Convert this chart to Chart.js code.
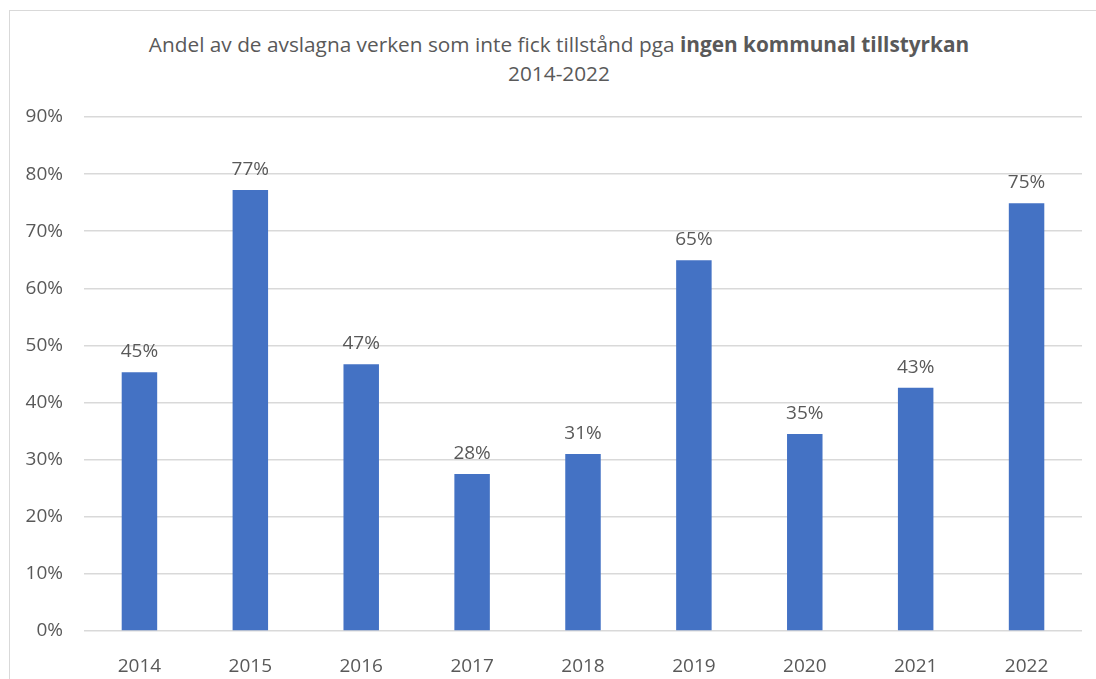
<!DOCTYPE html>
<html>
<head>
<meta charset="utf-8">
<script src="https://cdn.jsdelivr.net/npm/chart.js@4"></script>
<style>
  html, body { margin: 0; padding: 0; background: #fff; }
  body { width: 1096px; height: 679px; position: relative; overflow: hidden; font-family: 'Open Sans', sans-serif; }
  .frame { position: absolute; left: 9px; top: 10px; width: 1100px; height: 700px; border: 1px solid #d9d9d9; box-sizing: border-box; }
  .title { position: absolute; left: 0; width: 1118px; top: 30px; text-align: center; color: #595959; font-size: 20.8px; line-height: 29px; }
  canvas { position: absolute; left: 0; top: 0; }
</style>
</head>
<body>
<div class="frame"></div>
<div class="title">Andel av de avslagna verken som inte fick tillstånd pga <b>ingen kommunal tillstyrkan</b><br>2014-2022</div>
<canvas id="chart" width="1096" height="679"></canvas>
<script>
const years = ['2014', '2015', '2016', '2017', '2018', '2019', '2020', '2021', '2022'];
const shares = [45.3, 77.2, 46.7, 27.5, 31.0, 64.9, 34.5, 42.6, 74.9];
const yTicks = [0, 10, 20, 30, 40, 50, 60, 70, 80, 90];

const textColor = '#595959';
const gridColor = '#d9d9d9';

// value labels above each bar
const barLabels = {
  id: 'barLabels',
  afterDatasetsDraw(chart) {
    const ctx = chart.ctx;
    const meta = chart.getDatasetMeta(0);
    ctx.save();
    ctx.font = '19px "Open Sans"';
    ctx.fillStyle = textColor;
    ctx.textAlign = 'center';
    ctx.textBaseline = 'alphabetic';
    meta.data.forEach((bar, i) => {
      ctx.fillText(Math.round(shares[i]) + '%', bar.x, bar.y - 15);
    });
    ctx.restore();
  }
};

new Chart(document.getElementById('chart'), {
  type: 'bar',
  data: {
    labels: years,
    datasets: [{
      data: shares,
      backgroundColor: '#4472c4',
      categoryPercentage: 1,
      barPercentage: 0.32,
    }],
  },
  options: {
    responsive: false,
    animation: false,
    events: [],
    layout: { padding: { top: 117, right: 14, bottom: 0, left: 0 } },
    plugins: { legend: { display: false }, tooltip: { enabled: false } },
    scales: {
      x: {
        grid: { display: false },
        border: { display: false },
        ticks: { color: textColor, font: { family: 'Open Sans', size: 19 }, padding: 16 },
        afterFit: axis => { axis.height = 48; },
      },
      y: {
        min: 0,
        max: 90,
        afterBuildTicks: axis => { axis.ticks = yTicks.map(v => ({ value: v })); },
        grid: { color: gridColor, lineWidth: 1.5, drawTicks: false },
        border: { display: false },
        ticks: {
          color: textColor,
          font: { family: 'Open Sans', size: 19 },
          padding: 21,
          callback: v => v + '%',
        },
        afterFit: axis => { axis.width = 84; },
      },
    },
  },
  plugins: [barLabels],
});
</script>
</body>
</html>
